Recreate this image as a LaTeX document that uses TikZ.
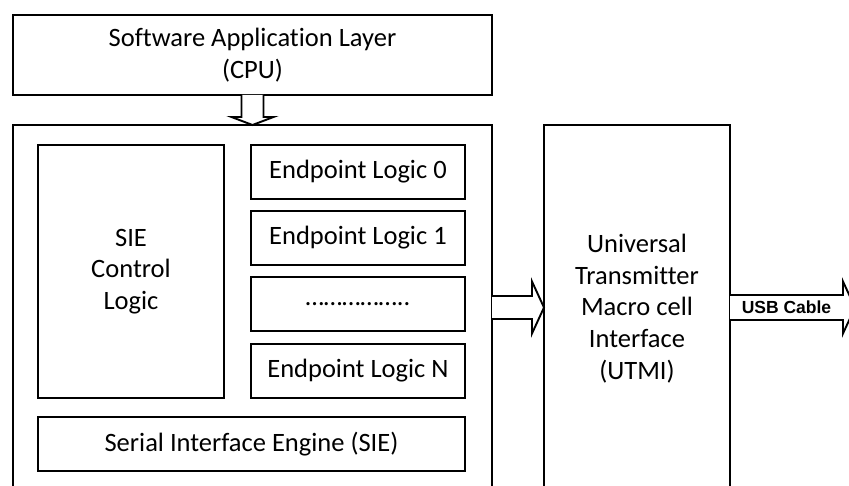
\documentclass[tikz,border=0pt]{standalone}
\usepackage{fontspec}
\setmainfont{Carlito}[Ligatures={NoCommon}]
\newfontfamily\labelfont{Liberation Sans}
\usetikzlibrary{calc}
\tikzset{
  box/.style={draw=black, line width=2.8pt, rectangle, inner sep=0pt, outer sep=0pt,
    font=\fontsize{26.5}{31.7}\selectfont, align=center},
  txt/.style={inner sep=0pt, font=\fontsize{26.5}{31.7}\selectfont, align=center},
  blockarrow/.style={draw=black, fill=white, line width=1.9pt, line join=miter},
  cablelabel/.style={inner sep=0pt, font=\labelfont\bfseries\fontsize{17.5}{20}\selectfont},
}
\begin{document}
\begin{tikzpicture}[x=1pt,y=-1pt]
\useasboundingbox (0,0) rectangle (849,486);
\clip (0,0) rectangle (849,486);
% main blocks
\node[box, minimum width=479pt, minimum height=80pt] (cpu) at (252.5,55) {Software Application Layer\\(CPU)};
\node[box, minimum width=479pt, minimum height=395pt] (outer) at (252.5,322.5) {};
\node[box, minimum width=186pt, minimum height=395pt] (utmi) at (637,322.5) {};
\node[txt] (utmitext) at (637,308.5) {Universal\\Transmitter\\Macro cell\\Interface\\(UTMI)};
% inner blocks
\node[box, minimum width=186pt, minimum height=253pt] (ctrl) at (131,271.5) {SIE\\Control\\Logic};
\node[box, minimum width=214pt, minimum height=54pt] (ep0) at (358,172) {Endpoint Logic 0};
\node[box, minimum width=214pt, minimum height=54pt] (ep1) at (358,238) {Endpoint Logic 1};
\node[box, minimum width=214pt, minimum height=54pt] (epd) at (358,304) {……………..};
\node[box, minimum width=214pt, minimum height=54pt] (epn) at (358,371) {Endpoint Logic N};
\node[box, minimum width=427pt, minimum height=54pt] (sie) at (251.5,444) {Serial Interface Engine (SIE)};
% arrows
\draw[blockarrow] ($(cpu.south)+(-11,0)$) -- ++(0,22) -- ++(-10,0) -- (outer.north)
  -- ($(cpu.south)+(21,22)$) -- ++(-10,0) -- ($(cpu.south)+(11,0)$);
\coordinate (lvl) at (0,307.5);
\draw[blockarrow] ($(outer.east|-lvl)+(0,-11.5)$) -- ($(utmi.west|-lvl)+(-12,-11.5)$) -- ++(0,-14.5)
  -- (utmi.west|-lvl) -- ($(utmi.west|-lvl)+(-12,26)$) -- ++(0,-14.5) -- ($(outer.east|-lvl)+(0,11.5)$);
\coordinate (cableend) at (855,307.5);
\draw[blockarrow] ($(utmi.east|-lvl)+(0,-12.5)$) -- ($(cableend)+(-12,-12.5)$) -- ++(0,-13.5)
  -- (cableend) -- ($(cableend)+(-12,26)$) -- ++(0,-13.5) -- ($(utmi.east|-lvl)+(0,12.5)$);
\node[cablelabel] (usb) at (786.5,307.5) {USB Cable};
\end{tikzpicture}
\end{document}
